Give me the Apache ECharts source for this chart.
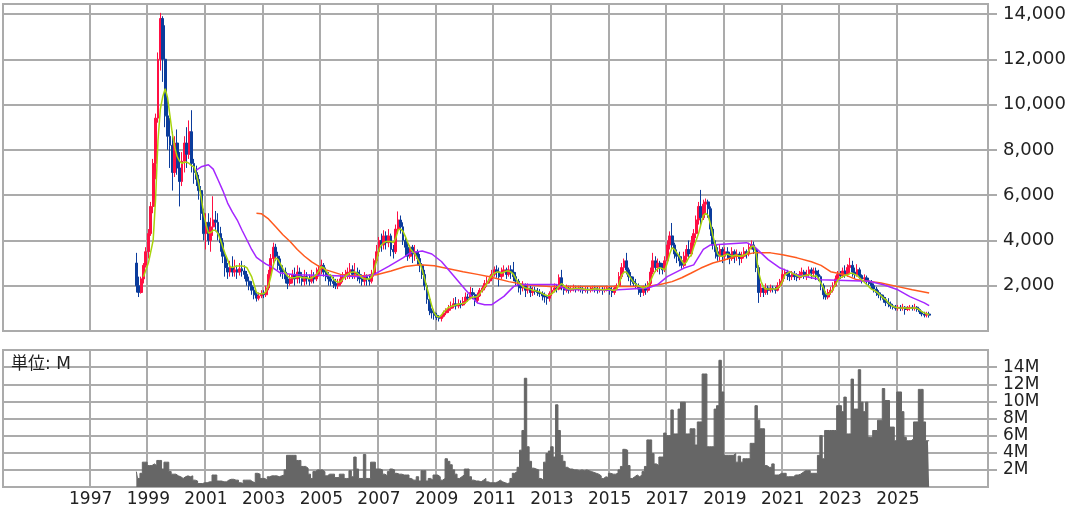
<!DOCTYPE html>
<html><head><meta charset="utf-8">
<script src="https://cdn.jsdelivr.net/npm/echarts@6/dist/echarts.min.js"></script>
<style>html,body{margin:0;padding:0;background:#fff}#c{width:1071px;height:508px}</style>
</head><body><div id="c"></div>
<script>
// ---- axis range (monthly slots) ----
const axisFirstMonth = [1994, 1];
const axisLastMonth = [2028, 2];
const gridYears = [1997, 1999, 2001, 2003, 2005, 2007, 2009, 2011, 2013, 2015, 2017, 2019, 2021, 2023, 2025];

// ---- monthly candles [open, close, low, high], first month below ----
const candleStart = '1998-08';
const candles = [
// 1998 Aug-Dec
[3000,2000,1700,3450],[2000,1700,1500,2400],[1700,2300,1650,2400],[2300,2900,2100,3000],[2900,3500,2800,3700],
// 1999
[3500,4300,3200,4500],[4300,5500,4200,5700],[5500,7400,5200,7600],[7400,9400,6700,9600],[9400,12000,9200,12300],[12000,13800,11500,14050],[13800,12000,11000,13900],[12000,9500,9000,13500],[9500,8600,8000,10300],[8600,8200,7200,9400],[8200,7000,6200,8800],[7000,8300,6800,8600],
// 2000
[8300,7200,6900,8900],[7200,6600,5500,7900],[6600,7500,6400,7900],[7500,8300,7000,8600],[8300,7800,7200,9000],[7800,8800,7600,9300],[8800,7400,7000,9750],[7400,7000,6500,7600],[7000,6700,6400,7300],[6700,6200,5800,6900],[6200,5200,4900,6400],[5200,4300,4000,5400],
// 2001
[4300,4800,3600,5200],[4800,4000,3800,5200],[4000,4600,3500,5000],[4600,4900,4200,5950],[4900,4800,4400,5300],[4800,4300,4000,5200],[4300,3900,3500,4600],[3900,3300,3000,4100],[3300,2800,2400,3500],[2800,2600,2300,3000],[2600,2800,2400,3100],[2800,2600,2400,3300],
// 2002
[2600,2700,2400,3150],[2700,2600,2300,2900],[2600,2750,2450,3000],[2750,2650,2400,3100],[2650,2500,2300,2900],[2500,2200,2000,2650],[2200,2000,1800,2400],[2000,1800,1600,2200],[1800,1600,1400,1950],[1600,1450,1300,1750],[1450,1550,1350,1700],[1550,1650,1450,1800],
// 2003
[1650,1600,1450,1800],[1600,1900,1500,2000],[1900,2500,1800,2700],[2500,3200,2400,3400],[3200,3700,3000,3900],[3700,3300,3100,3850],[3300,2900,2700,3500],[2900,2700,2400,3200],[2700,2600,2300,2900],[2600,2300,2100,2800],[2300,2100,1850,2500],[2100,2300,2000,2500],
// 2004
[2300,2500,2100,2700],[2500,2300,2000,2800],[2300,2600,2100,2900],[2600,2400,2100,2800],[2400,2200,2000,2600],[2200,2400,2000,2700],[2400,2300,2050,2600],[2300,2200,2000,2500],[2200,2400,2100,2700],[2400,2300,2100,2600],[2300,2500,2200,2800],[2500,2700,2400,2900],
// 2005
[2700,2900,2500,3150],[2900,2600,2400,3000],[2600,2400,2200,2800],[2400,2300,2000,2600],[2300,2200,2000,2500],[2200,2100,1900,2400],[2100,2000,1850,2300],[2000,2100,1850,2300],[2100,2300,2000,2500],[2300,2400,2150,2600],[2400,2500,2250,2700],[2500,2600,2300,2800],
// 2006
[2600,2700,2300,3000],[2700,2500,2300,2900],[2500,2600,2300,3000],[2600,2500,2200,2800],[2500,2300,2100,2700],[2300,2200,2000,2500],[2200,2400,2000,2600],[2400,2300,2000,2500],[2300,2200,2000,2500],[2200,2500,2100,2700],[2500,3100,2400,3200],[3100,3500,3000,3800],
// 2007
[3500,4000,3300,4150],[4000,3800,3500,4300],[3800,4200,3600,4450],[4200,3900,3600,4400],[3900,4200,3700,4500],[4200,3600,3300,4300],[3600,3500,3200,3800],[3500,4500,3400,4700],[4500,4900,4300,5280],[4900,4600,4300,5100],[4600,4000,3800,4800],[4000,3700,3300,4200],
// 2008
[3700,3300,3100,3900],[3300,3700,3200,3800],[3700,3400,3000,3800],[3400,3500,3100,3800],[3500,3200,2900,3600],[3200,2900,2600,3400],[2900,2500,2300,3000],[2500,2000,1800,2700],[2000,1400,1200,2100],[1400,900,700,1500],[900,800,550,1000],[800,700,500,950],
// 2009
[700,600,480,800],[600,550,420,700],[550,650,420,750],[650,800,600,900],[800,900,700,1000],[900,1000,800,1150],[1000,1100,900,1300],[1100,1200,1000,1450],[1200,1100,950,1500],[1100,1200,1000,1400],[1200,1150,1000,1350],[1150,1300,1100,1500],
// 2010
[1300,1500,1200,1700],[1500,1450,1300,1650],[1450,1700,1400,1950],[1700,1600,1400,1900],[1600,1350,1100,1700],[1350,1550,1250,1700],[1550,1800,1500,1900],[1800,1900,1700,2000],[1900,2100,1800,2250],[2100,2200,1950,2400],[2200,2300,2100,2450],[2300,2500,2200,2700],
// 2011
[2500,2700,2400,2850],[2700,2600,2350,2900],[2600,2400,1970,2800],[2400,2600,2300,2800],[2600,2700,2400,2900],[2700,2500,2300,2800],[2500,2700,2400,2900],[2700,2600,2300,2900],[2600,2400,2200,3050],[2400,2200,2000,2600],[2200,2000,1700,2300],[2000,1900,1600,2100],
// 2012
[1900,2000,1750,2200],[2000,1800,1500,2100],[1800,1900,1650,2100],[1900,1700,1500,2000],[1700,1800,1550,1950],[1800,1750,1600,1950],[1750,1700,1550,1900],[1700,1650,1500,1850],[1650,1550,1350,1750],[1550,1500,1250,1700],[1500,1450,1160,1600],[1450,1650,1300,1750],
// 2013
[1650,1800,1550,1950],[1800,1900,1700,2100],[1900,1850,1700,2050],[1850,2350,1800,2500],[2350,1950,1800,2700],[1950,1800,1600,2050],[1800,1900,1700,2050],[1900,1800,1650,2000],[1800,1850,1700,2000],[1850,1900,1750,2050],[1900,1850,1700,2000],[1850,1900,1750,2000],
// 2014
[1900,1850,1700,2000],[1850,1800,1650,1950],[1800,1850,1700,1950],[1850,1800,1650,1950],[1800,1850,1700,1950],[1850,1900,1750,2000],[1900,1850,1700,2000],[1850,1800,1650,1950],[1800,1850,1700,1950],[1850,1800,1600,1950],[1800,1850,1700,1950],[1850,1900,1750,2000],
// 2015
[1900,1800,1600,2000],[1800,1700,1500,1950],[1700,1900,1600,2000],[1900,2000,1800,2100],[2000,2400,1950,2600],[2400,2800,2300,3000],[2800,3100,2600,3200],[3100,2700,2500,3450],[2700,2400,2200,2800],[2400,2200,2000,2600],[2200,2100,1950,2400],[2100,2000,1850,2300],
// 2016
[2000,1850,1600,2100],[1850,1700,1500,1950],[1700,1900,1550,2000],[1900,1800,1600,2100],[1800,2100,1700,2200],[2100,2600,2000,2800],[2600,3100,2500,3450],[3100,2800,2600,3300],[2800,3000,2600,3200],[3000,2800,2500,3100],[2800,2700,2500,3000],[2700,3100,2600,3300],
// 2017
[3100,3800,3000,4000],[3800,4200,3600,4400],[4200,3800,3600,4770],[3800,3400,3200,3900],[3400,3300,3000,3600],[3300,3100,2850,3500],[3100,2900,2750,3300],[2900,3300,2800,3500],[3300,3600,3100,3800],[3600,3400,3200,4000],[3400,3900,3300,4200],[3900,4300,3700,4500],
// 2018
[4300,4900,4100,5100],[4900,5500,4700,5700],[5500,5000,4600,6230],[5000,5600,4900,5800],[5600,5700,5200,5850],[5700,5400,5000,5800],[5400,4500,4200,5500],[4500,3800,3600,4600],[3800,3500,3200,4000],[3500,3300,3100,3700],[3300,3600,3100,3800],[3600,3300,3000,3700],
// 2019
[3300,3500,3100,3700],[3500,3400,3150,3700],[3400,3200,2950,3500],[3200,3500,3100,3700],[3500,3300,3000,3600],[3300,3400,3100,3600],[3400,3200,2900,3500],[3200,3300,3000,3500],[3300,3500,3200,3700],[3500,3400,3200,3600],[3400,3700,3300,3900],[3700,3800,3600,4000],
// 2020
[3800,3600,3400,3950],[3600,2800,2600,3700],[2800,1700,1240,2900],[1700,1900,1500,2100],[1900,1700,1500,2000],[1700,1900,1600,2100],[1900,1800,1600,2000],[1800,1900,1700,2050],[1900,1850,1700,2000],[1850,1800,1650,1950],[1800,2000,1750,2150],[2000,2200,1900,2300],
// 2021
[2200,2500,2100,2700],[2500,2600,2300,2750],[2600,2450,2250,2700],[2450,2400,2200,2650],[2400,2500,2250,2650],[2500,2400,2250,2650],[2400,2350,2200,2550],[2350,2500,2250,2650],[2500,2600,2350,2800],[2600,2450,2300,2700],[2450,2500,2250,2700],[2500,2700,2400,2850],
// 2022
[2700,2550,2300,2800],[2550,2650,2400,2800],[2650,2500,2250,2800],[2500,2400,2200,2700],[2400,2000,1800,2450],[2000,1600,1400,2100],[1600,1500,1380,1750],[1500,1700,1400,1850],[1700,1800,1600,1950],[1800,2000,1700,2150],[2000,2300,1950,2450],[2300,2500,2200,2650],
// 2023
[2500,2450,2300,2650],[2450,2650,2350,2800],[2650,2500,2350,2900],[2500,2800,2400,2950],[2800,2900,2500,3230],[2900,2600,2400,3100],[2600,2500,2300,2800],[2500,2700,2400,2950],[2700,2450,2300,2800],[2450,2300,2100,2500],[2300,2350,2150,2500],[2350,2200,2050,2450],
// 2024
[2200,2100,1950,2350],[2100,2000,1850,2250],[2000,1850,1700,2100],[1850,1700,1550,1950],[1700,1600,1450,1800],[1600,1500,1350,1700],[1500,1400,1250,1600],[1400,1250,1100,1500],[1250,1200,1050,1450],[1200,1100,980,1300],[1100,1050,950,1200],[1050,1000,900,1150],
// 2025
[1000,1050,900,1150],[1050,1000,880,1150],[1000,1050,900,1200],[1050,950,720,1100],[950,1000,880,1100],[1000,1050,900,1150],[1050,1000,900,1150],[1000,1050,900,1200],[1050,950,850,1100],[950,850,750,1000],[850,750,650,900],[750,700,600,850],
// 2026 Jan-Feb
[700,750,600,850],[750,700,590,850]
];

// ---- monthly volume, millions of shares (same months as candles) ----
const volumes = [
1.8,1.0,1.6,2.9,2.9,
2.5,2.5,2.7,2.5,3.1,3.1,2.1,2.9,2.9,1.8,1.5,1.5,
1.3,1.2,1.0,1.2,1.3,1.2,1.3,0.8,0.7,0.4,0.4,0.5,
0.5,0.6,0.6,1.4,1.4,0.7,0.7,0.6,0.6,0.8,0.9,0.9,
0.8,0.8,0.5,0.4,0.8,0.8,0.8,0.6,0.5,1.6,1.5,1.0,
1.0,0.8,1.2,1.3,1.3,1.3,1.2,1.3,1.4,2.0,3.7,3.7,
3.7,3.7,3.1,3.1,2.4,2.4,2.2,1.5,1.0,1.8,2.0,2.0,
2.0,1.8,1.3,1.5,1.5,1.5,1.1,1.1,1.5,1.5,1.0,1.0,
1.9,1.2,3.5,2.1,1.0,1.0,3.8,1.0,1.0,2.9,2.9,2.1,
2.1,2.0,1.5,1.3,1.8,2.1,2.0,1.6,1.5,1.5,1.4,1.4,
1.4,1.0,0.8,0.8,1.2,0.7,1.9,1.9,0.7,1.0,0.8,1.4,
1.4,1.2,0.8,1.0,3.3,3.0,2.6,2.0,1.5,1.0,1.2,1.4,
2.1,2.1,1.2,0.8,0.7,0.7,0.6,0.8,1.0,0.6,0.5,0.5,
0.5,0.6,0.8,0.6,0.5,0.4,0.5,1.0,1.6,1.8,2.3,4.3,
6.6,12.7,4.7,3.0,2.2,2.1,2.0,1.0,0.8,2.9,3.9,4.2,
4.7,3.5,9.6,6.6,3.7,3.0,2.3,2.1,2.1,2.0,2.0,1.9,
2.0,1.9,2.0,1.9,1.8,1.7,1.6,1.5,1.3,1.0,1.2,1.1,
1.6,1.5,1.5,1.6,2.0,2.4,4.4,4.3,2.5,1.0,1.2,1.4,
1.2,1.4,1.8,2.4,5.5,5.5,3.9,2.7,2.5,3.5,3.5,6.3,
6.0,6.0,9.0,6.2,6.2,9.1,9.9,9.9,6.2,6.2,6.8,6.8,
4.9,7.6,7.6,13.2,13.2,4.7,4.7,4.7,9.1,9.5,14.8,11.1,
3.7,3.7,3.7,3.7,3.9,2.9,3.6,2.9,3.3,3.3,3.3,5.1,
5.1,9.5,7.8,6.8,6.8,2.5,2.3,2.3,2.7,1.4,1.4,1.6,
1.6,1.6,1.2,1.2,1.2,1.4,1.4,1.5,1.7,1.9,1.9,1.9,
1.6,1.6,1.6,3.7,6.0,3.3,6.6,6.6,6.6,6.6,6.6,9.5,
9.5,8.8,10.5,6.2,6.2,12.6,9.1,9.1,13.7,9.9,8.8,9.9,
5.8,5.8,6.6,6.6,7.8,7.8,11.5,10.1,10.1,7.0,7.0,5.4,
11.1,11.1,8.8,5.8,5.4,5.4,5.6,7.6,7.6,11.4,11.4,7.6,
5.4,5.4
];

// ---- short moving average (yellow-green), monthly from start month ----
const maShortStart = '1998-11';
const maShort = [
2400,2700,
3000,3500,4000,5800,8400,9800,10350,10700,10300,9500,8700,8100,
7700,7500,7400,7450,7450,7400,7300,7250,6900,6500,5900,5200,
4700,4330,4350,4450,4450,4300,4030,3700,3400,3150,2850,2800,
2850,2870,2870,2870,2850,2800,2600,2400,2050,1700,1650,1650,
1650,1750,2000,2400,2900,3230,3150,2950,2750,2570,2420,2350,
2350,2350,2400,2400,2350,2350,2350,2300,2350,2400,2500,2650,
2840,2800,2650,2500,2450,2300,2200,2150,2180,2300,2400,2500,
2580,2600,2600,2550,2450,2350,2300,2300,2300,2400,2700,3100,
3600,3800,3900,3950,3950,3950,3900,4100,4470,4500,4400,4170,
3900,3650,3500,3400,3200,3000,2700,2300,1900,1500,1100,800,
650,620,700,850,950,1050,1080,1120,1150,1180,1200,1220,
1250,1350,1450,1500,1500,1530,1650,1800,1950,2100,2300,2450,
2550,2600,2600,2550,2600,2650,2650,2600,2500,2300,2150,2050,
1950,1900,1880,1850,1800,1780,1750,1720,1650,1600,1550,1580,
1650,1750,1850,2000,2100,2000,1900,1850,1850,1870,1880,1880,
1870,1850,1830,1830,1820,1850,1870,1850,1830,1820,1820,1840,
1850,1800,1800,1850,2100,2450,2600,2600,2450,2300,2150,2050,
2000,1950,1900,1950,2000,2200,2450,2650,2750,2800,2750,2700,
3000,3400,3680,3600,3450,3300,3100,2950,3050,3250,3350,3700,
4000,4300,4700,5100,5200,5100,4700,4200,3800,3400,3300,3300,
3350,3400,3350,3300,3350,3350,3300,3300,3350,3400,3550,3720,
3750,3400,2600,2200,1950,1850,1850,1850,1850,1850,1900,2000,
2200,2480,2550,2620,2550,2500,2450,2400,2420,2450,2450,2500,
2450,2400,2450,2300,2100,1900,1650,1600,1700,1850,2050,2250,
2350,2400,2450,2480,2550,2550,2500,2450,2350,2250,2150,2050,
1950,1850,1800,1740,1650,1550,1450,1380,1250,1150,1080,1050,
1030,1020,1020,1030,1000,1000,1020,1030,1000,930,850,800,
760,720
];

// ---- medium moving average (purple), read points ----
const maMid = [
['2000-09',7100],['2000-11',7250],['2001-02',7340],['2001-04',7150],['2001-06',6680],['2001-08',6200],
['2001-10',5650],['2001-12',5250],['2002-02',4900],['2002-04',4450],['2002-06',4030],['2002-08',3600],
['2002-10',3250],['2002-12',3100],['2003-02',2950],['2003-04',2850],['2003-08',2560],['2004-02',2480],
['2005-04',2450],['2006-06',2400],['2006-11',2500],['2007-05',2850],['2007-11',3230],['2008-02',3450],
['2008-07',3530],['2008-11',3400],['2009-03',3070],['2009-07',2570],['2010-01',1820],['2010-06',1240],
['2010-09',1160],['2010-12',1160],['2011-05',1530],['2011-09',1960],['2011-11',2050],['2013-03',2050],
['2013-07',1830],['2015-01',1800],['2016-05',1900],['2016-09',2050],['2017-01',2400],['2017-08',2780],
['2017-12',2920],['2018-04',3600],['2018-07',3800],['2019-10',3900],['2020-01',3750],['2020-07',3150],
['2020-12',2780],['2021-02',2700],['2021-07',2480],['2022-05',2260],['2024-01',2200],['2024-07',2040],
['2025-01',1820],['2025-06',1520],['2025-12',1240],['2026-02',1120]
];

// ---- long moving average (orange-red), read points ----
const maLong = [
['2002-10',5200],['2002-12',5180],['2003-03',4950],['2003-06',4600],['2003-09',4250],['2003-12',3950],
['2004-03',3600],['2004-06',3300],['2004-09',3050],['2004-12',2850],['2005-03',2700],['2005-06',2600],
['2005-09',2500],['2006-01',2450],['2006-06',2440],['2006-12',2480],['2007-06',2650],['2007-12',2850],
['2008-06',2930],['2008-12',2880],['2009-06',2750],['2009-12',2620],['2010-06',2500],['2010-11',2400],
['2011-07',2180],['2012-02',2040],['2012-12',1960],['2016-04',1970],['2016-10',2050],['2017-03',2180],
['2017-07',2350],['2017-11',2560],['2018-03',2780],['2018-08',3000],['2019-01',3150],['2019-05',3280],
['2020-01',3450],['2020-08',3450],['2021-01',3370],['2021-07',3230],['2022-01',3060],['2022-05',2900],
['2022-09',2620],['2023-03',2480],['2023-08',2260],['2024-06',2120],['2025-01',1960],['2025-07',1820],
['2026-02',1680]
];

// ---- tick labels ----
const priceTicks = [2000,4000,6000,8000,10000,12000,14000];
const volumeTicks = [2,4,6,8,10,12,14];
const volumeUnitLabel = '単位: M';

// ---- build month categories ----
const months = [];
{
  let y = axisFirstMonth[0], m = axisFirstMonth[1];
  while (y < axisLastMonth[0] || (y === axisLastMonth[0] && m <= axisLastMonth[1])) {
    months.push(y + '-' + String(m).padStart(2, '0'));
    m++; if (m > 12) { m = 1; y++; }
  }
}
const idx = l => months.indexOf(l);
const isYearLine = (i, v) => typeof v === 'string' && v.endsWith('-01') && gridYears.indexOf(+v.slice(0, 4)) >= 0;

const c0 = idx(candleStart);
const s0 = idx(maShortStart);
const candleData = candles.map((d, k) => [c0 + k, d[0], d[1], d[2], d[3]]);
const volData = volumes.map((v, k) => [c0 + k, v]);
const shortData = maShort.map((v, k) => [s0 + k, v]);
const midData = maMid.map(([l, v]) => [idx(l), v]);
const longData = maLong.map(([l, v]) => [idx(l), v]);

const FONT = '"DejaVu Sans", "Noto Sans CJK JP", sans-serif';
const GRID_C = '#ababab';
const TXT = '#222';

const chart = echarts.init(document.getElementById('c'), null, { renderer: 'canvas' });
chart.setOption({
  animation: false,
  backgroundColor: '#fff',
  textStyle: { fontFamily: FONT },
  grid: [
    { left: 3, right: 83, top: 4, height: 327, show: true, borderColor: GRID_C, borderWidth: 2, backgroundColor: 'transparent' },
    { left: 3, right: 83, top: 350, height: 137, show: true, borderColor: GRID_C, borderWidth: 2, backgroundColor: 'transparent' }
  ],
  xAxis: [
    { type: 'category', gridIndex: 0, data: months, boundaryGap: true,
      axisLine: { show: false }, axisTick: { show: false }, axisLabel: { show: false },
      splitLine: { show: true, interval: isYearLine, lineStyle: { color: GRID_C, width: 2 } } },
    { type: 'category', gridIndex: 1, data: months, boundaryGap: true, position: 'bottom',
      axisLine: { show: false }, axisTick: { show: false },
      axisLabel: { show: true, interval: isYearLine, formatter: v => v.slice(0, 4), fontSize: 17, color: TXT, margin: 4, fontFamily: FONT },
      splitLine: { show: true, interval: isYearLine, lineStyle: { color: GRID_C, width: 2 } } }
  ],
  yAxis: [
    { type: 'value', gridIndex: 0, position: 'right', min: 0, max: 14440, interval: 2000,
      axisLine: { show: false },
      axisTick: { show: true, length: 9, customValues: priceTicks, lineStyle: { color: GRID_C, width: 2 } },
      axisLabel: { show: true, customValues: priceTicks, margin: 15, fontSize: 18, color: TXT, fontFamily: FONT,
        formatter: v => (v > 0 && v % 2000 === 0 && v <= 14000) ? v.toLocaleString('en-US') : '' },
      splitLine: { show: true, lineStyle: { color: GRID_C, width: 2 } } },
    { type: 'value', gridIndex: 1, position: 'right', min: 0, max: 16, interval: 2,
      axisLine: { show: false },
      axisTick: { show: true, length: 9, customValues: volumeTicks, lineStyle: { color: GRID_C, width: 2 } },
      axisLabel: { show: true, customValues: volumeTicks, margin: 15, fontSize: 17, color: TXT, fontFamily: FONT,
        formatter: v => (v > 0 && v < 16) ? v + 'M' : '' },
      splitLine: { show: true, lineStyle: { color: GRID_C, width: 2 } } }
  ],
  series: [
    { type: 'candlestick', xAxisIndex: 0, yAxisIndex: 0, data: candleData,
      encode: { x: 0, y: [1, 2, 3, 4] }, barWidth: '100%',
      itemStyle: { color: '#ff0f43', color0: '#0b3c9c', borderColor: '#ff0f43', borderColor0: '#0b3c9c', borderWidth: 1 } },
    { type: 'line', xAxisIndex: 0, yAxisIndex: 0, data: longData, showSymbol: false, z: 3,
      lineStyle: { color: '#ff5a1e', width: 1.5 } },
    { type: 'line', xAxisIndex: 0, yAxisIndex: 0, data: midData, showSymbol: false, z: 4,
      lineStyle: { color: '#a526ff', width: 1.5 } },
    { type: 'line', xAxisIndex: 0, yAxisIndex: 0, data: shortData, showSymbol: false, z: 5,
      lineStyle: { color: '#a8d40c', width: 1.5 } },
    { type: 'line', xAxisIndex: 1, yAxisIndex: 1, data: volData, step: 'middle', showSymbol: false, z: 3,
      lineStyle: { color: '#666666', width: 1 }, areaStyle: { color: '#666666', opacity: 1 } }
  ],
  graphic: [
    { type: 'text', left: 11, top: 356, z: 100,
      style: { text: volumeUnitLabel, fill: TXT, font: '17px ' + FONT } }
  ]
});
</script>
</body></html>
